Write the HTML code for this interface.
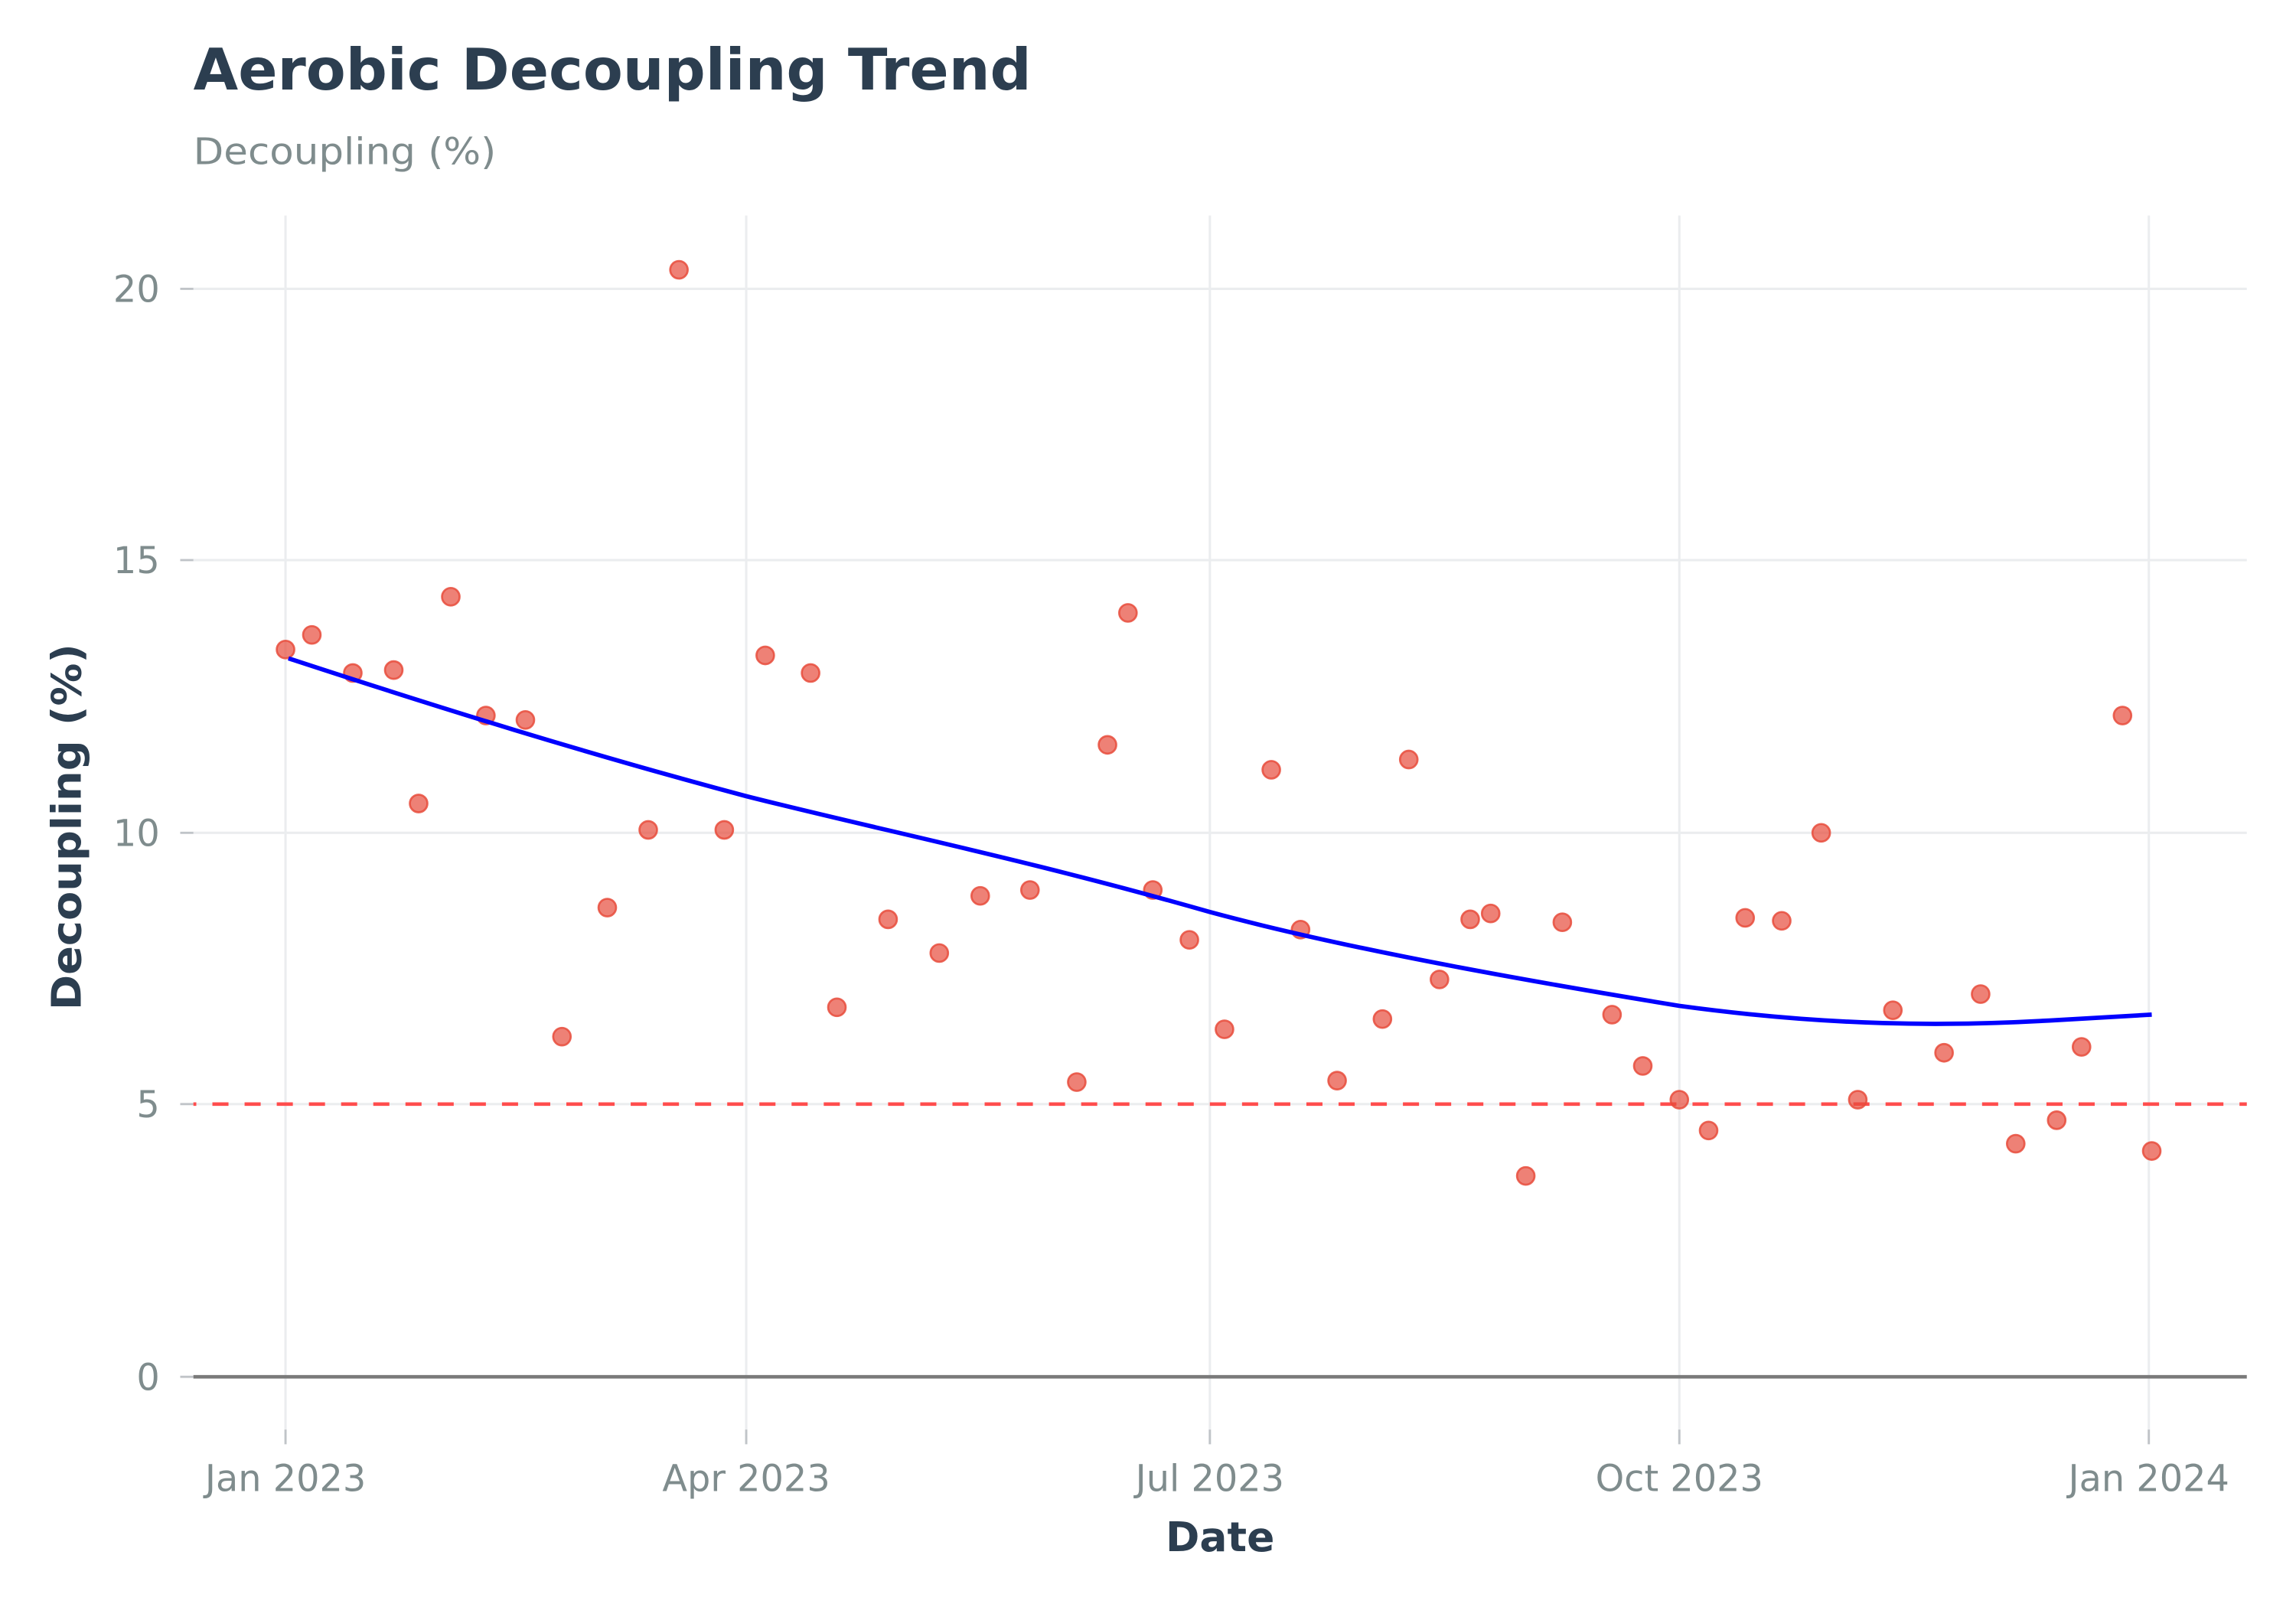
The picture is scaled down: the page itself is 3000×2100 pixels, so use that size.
<!DOCTYPE html>
<html><head><meta charset="utf-8"><style>
html,body{margin:0;padding:0;background:#fff}
svg{display:block}
text{font-family:"DejaVu Sans","Liberation Sans",sans-serif}
</style></head><body>
<svg width="3000" height="2100" viewBox="0 0 1560 1096" preserveAspectRatio="none" xmlns="http://www.w3.org/2000/svg">
<rect width="1560" height="1096" fill="#fff"/>
<g transform="matrix(0.99372,0,0,1,1.218,0)">
<text x="131" y="61" font-size="39" font-weight="bold" fill="#2c3e50" textLength="573" lengthAdjust="spacingAndGlyphs">Aerobic Decoupling Trend</text>
<text x="131" y="112" font-size="25" fill="#7f8c8d" textLength="207" lengthAdjust="spacingAndGlyphs">Decoupling (%)</text>
<g stroke="#ebedef" stroke-width="1.6">
<line x1="194" y1="147" x2="194" y2="985"/><line x1="509" y1="147" x2="509" y2="985"/><line x1="826" y1="147" x2="826" y2="985"/><line x1="1147" y1="147" x2="1147" y2="985"/><line x1="1468" y1="147" x2="1468" y2="985"/>
<line x1="131" y1="197" x2="1535" y2="197"/><line x1="131" y1="382" x2="1535" y2="382"/><line x1="131" y1="568" x2="1535" y2="568"/><line x1="131" y1="753" x2="1535" y2="753"/>
</g>
<g stroke="#c0c4c8" stroke-width="1.5">
<line x1="194" y1="975" x2="194" y2="985"/><line x1="509" y1="975" x2="509" y2="985"/><line x1="826" y1="975" x2="826" y2="985"/><line x1="1147" y1="975" x2="1147" y2="985"/><line x1="1468" y1="975" x2="1468" y2="985"/>
<line x1="122" y1="197" x2="131" y2="197"/><line x1="122" y1="382" x2="131" y2="382"/><line x1="122" y1="568" x2="131" y2="568"/><line x1="122" y1="753" x2="131" y2="753"/><line x1="122" y1="939" x2="131" y2="939"/>
</g>
<line x1="131" y1="939" x2="1535" y2="939" stroke="#7a7a7a" stroke-width="2.4"/>
<line x1="131" y1="753" x2="1535" y2="753" stroke="#ff4d4d" stroke-width="2.4" stroke-dasharray="11,11" stroke-dashoffset="-13"/>
<g font-size="25" fill="#7f8c8d" text-anchor="end">
<text x="108" y="206">20</text><text x="108" y="391">15</text><text x="108" y="577">10</text><text x="108" y="762">5</text><text x="108" y="948">0</text>
</g>
<g font-size="25" fill="#7f8c8d" text-anchor="middle">
<text x="194" y="1017">Jan 2023</text><text x="509" y="1017">Apr 2023</text><text x="826" y="1017">Jul 2023</text><text x="1147" y="1017">Oct 2023</text><text x="1468" y="1017">Jan 2024</text>
</g>
<text x="833" y="1058" font-size="28" font-weight="bold" fill="#2c3e50" text-anchor="middle">Date</text>
<text transform="translate(54,564) rotate(-90)" font-size="28" font-weight="bold" fill="#2c3e50" text-anchor="middle" textLength="250" lengthAdjust="spacingAndGlyphs">Decoupling (%)</text>
<g fill="#e74c3c" fill-opacity="0.7" stroke="#e74c3c" stroke-opacity="0.85" stroke-width="1.4">
<circle cx="194" cy="443" r="6"/><circle cx="212" cy="433" r="6"/><circle cx="240" cy="459" r="6"/><circle cx="268" cy="457" r="6"/><circle cx="285" cy="548" r="6"/><circle cx="307" cy="407" r="6"/><circle cx="331" cy="488" r="6"/><circle cx="358" cy="491" r="6"/><circle cx="383" cy="707" r="6"/><circle cx="414" cy="619" r="6"/><circle cx="442" cy="566" r="6"/><circle cx="463" cy="184" r="6"/><circle cx="494" cy="566" r="6"/><circle cx="522" cy="447" r="6"/><circle cx="553" cy="459" r="6"/><circle cx="571" cy="687" r="6"/><circle cx="606" cy="627" r="6"/><circle cx="641" cy="650" r="6"/><circle cx="669" cy="611" r="6"/><circle cx="703" cy="607" r="6"/><circle cx="735" cy="738" r="6"/><circle cx="756" cy="508" r="6"/><circle cx="770" cy="418" r="6"/><circle cx="787" cy="607" r="6"/><circle cx="812" cy="641" r="6"/><circle cx="836" cy="702" r="6"/><circle cx="868" cy="525" r="6"/><circle cx="888" cy="634" r="6"/><circle cx="913" cy="737" r="6"/><circle cx="944" cy="695" r="6"/><circle cx="962" cy="518" r="6"/><circle cx="983" cy="668" r="6"/><circle cx="1004" cy="627" r="6"/><circle cx="1018" cy="623" r="6"/><circle cx="1042" cy="802" r="6"/><circle cx="1067" cy="629" r="6"/><circle cx="1101" cy="692" r="6"/><circle cx="1122" cy="727" r="6"/><circle cx="1147" cy="750" r="6"/><circle cx="1167" cy="771" r="6"/><circle cx="1192" cy="626" r="6"/><circle cx="1217" cy="628" r="6"/><circle cx="1244" cy="568" r="6"/><circle cx="1269" cy="750" r="6"/><circle cx="1293" cy="689" r="6"/><circle cx="1328" cy="718" r="6"/><circle cx="1353" cy="678" r="6"/><circle cx="1377" cy="780" r="6"/><circle cx="1405" cy="764" r="6"/><circle cx="1422" cy="714" r="6"/><circle cx="1450" cy="488" r="6"/><circle cx="1470" cy="785" r="6"/>
</g>
<path d="M196,449 C300,483 400,514 509,543 C600,566 700,586 826,622 C900,642 1000,662 1147,686 C1250,700 1330,700 1400,696 L1470,692" fill="none" stroke="#0000ff" stroke-width="3"/>
</g>
</svg>
</body></html>
